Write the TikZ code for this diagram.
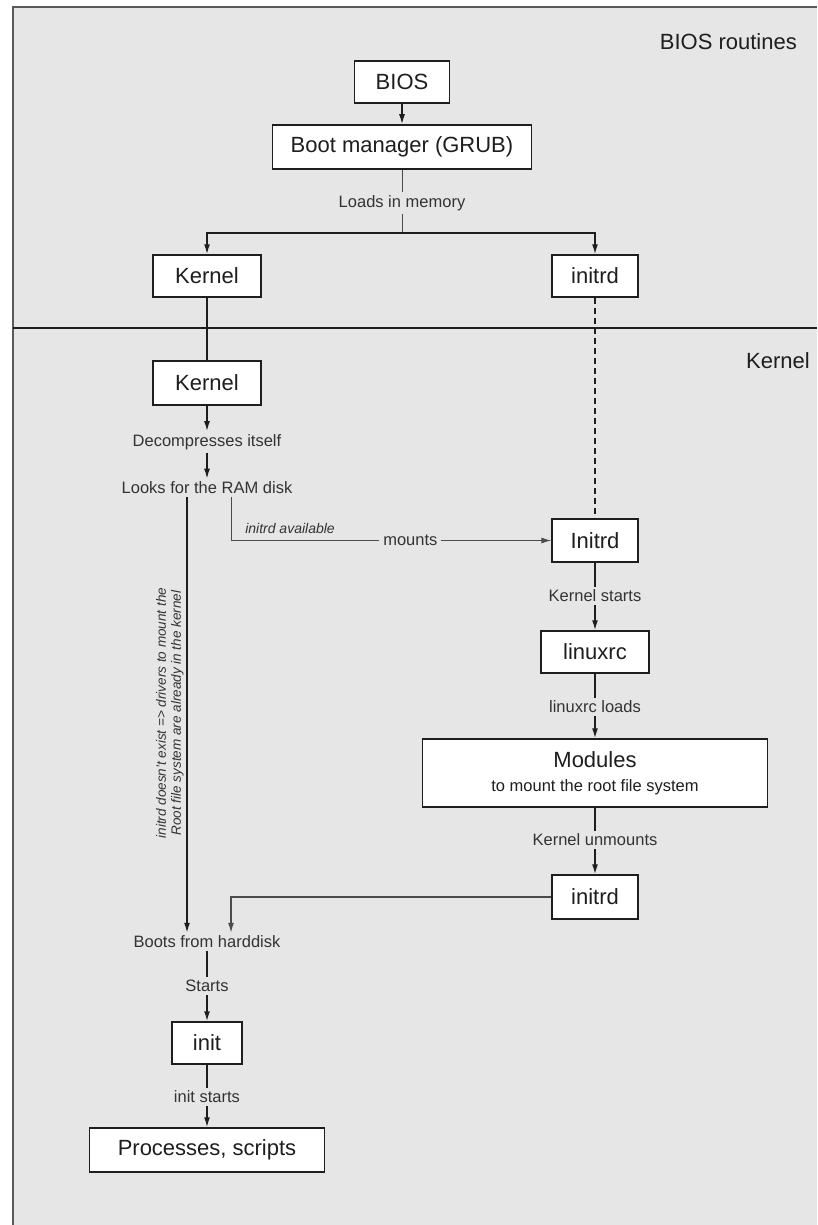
\documentclass[tikz,border=0pt]{standalone}
\usepackage{fontspec}
\setmainfont{Liberation Sans}
\usetikzlibrary{arrows.meta}
\definecolor{panel}{HTML}{E6E6E6}
\definecolor{ink}{HTML}{1E1E1E}
\definecolor{labelink}{HTML}{333333}
\definecolor{frameink}{HTML}{5A5A5A}
\begin{document}
\begin{tikzpicture}[x=1pt,y=-1pt,
  stage/.style={draw=ink, fill=white, line width=1.5pt, inner sep=0pt,
    font=\fontsize{22}{26}\selectfont, text=ink, align=center},
  caption/.style={font=\fontsize{16.5}{19}\selectfont, text=labelink, inner sep=3pt},
  region/.style={font=\fontsize{22}{26}\selectfont, text=ink, inner sep=0pt},
  flow/.style={draw=ink, line width=1.5pt},
  fine/.style={draw=ink!80, line width=1pt},
  tip/.style={-{Latex[length=10pt,width=6pt]}},
]
% page and panel
\useasboundingbox (0,0) rectangle (817,1225);
\fill[panel] (13,7) rectangle (817,1225);
\draw[line width=2pt, frameink] (13,1225) -- (13,7) -- (817,7);
\draw[line width=1.6pt, ink] (13,328) -- (817,328);

% region titles
\node[region, anchor=east] (biosregion) at (797,42) {BIOS routines};
\node[region, anchor=east] (kernelregion) at (810,361) {Kernel};

% boxes: left column at x=207, right column at x=595
\node[stage, minimum width=95pt, minimum height=42pt] (bios) at (402,82) {BIOS};
\node[stage, minimum width=259pt, minimum height=44pt] (grub) at (402,147) {Boot manager (GRUB)};
\node[stage, minimum width=108pt, minimum height=42pt] (kernelA) at (207,276) {Kernel};
\node[stage, minimum width=86pt, minimum height=42pt] (initrdA) at (595,276) {initrd};
\node[stage, minimum width=108pt, minimum height=44pt] (kernelB) at (207,383) {Kernel};
\node[stage, minimum width=86pt, minimum height=43pt] (initrdB) at (595,540.5) {Initrd};
\node[stage, minimum width=108pt, minimum height=42pt] (linuxrc) at (595,652) {linuxrc};
\node[stage, minimum width=345pt, minimum height=68pt] (modules) at (595,773)
  {Modules\\[-2pt]{\fontsize{16.5}{19}\selectfont to mount the root file system}};
\node[stage, minimum width=86pt, minimum height=44pt] (initrdC) at (595,897) {initrd};
\node[stage, minimum width=70pt, minimum height=42pt] (init) at (207,1043) {init};
\node[stage, minimum width=235pt, minimum height=44pt] (procs) at (207,1150) {Processes, scripts};

% step captions
\node[caption] (loads) at (402,203) {Loads in memory};
\node[caption] (decomp) at (207,442) {Decompresses itself};
\node[caption] (looks) at (207,488) {Looks for the RAM disk};
\node[caption, font=\itshape\fontsize{14}{16}\selectfont] (avail) at (290,528) {initrd available};
\node[caption] (kstarts) at (595,596) {Kernel starts};
\node[caption] (lloads) at (595,707) {linuxrc loads};
\node[caption] (kunmounts) at (595,840) {Kernel unmounts};
\node[caption] (boots) at (207,942) {Boots from harddisk};
\node[caption] (starts) at (207,986) {Starts};
\node[caption] (istarts) at (207,1097) {init starts};
\node[caption, rotate=90, align=center, inner sep=0pt,
  font=\itshape\fontsize{13.5}{15}\selectfont] (noinitrd) at (170,713)
  {initrd doesn't exist => drivers to mount the\\Root file system are already in the kernel};

% branch point under the boot manager
\coordinate (branch) at (402,233);

% connectors, BIOS section
\draw[flow, tip] (bios) -- (grub);
\draw[fine] (grub) -- (loads);
\draw[fine] (loads) -- (branch);
\draw[flow, tip] (branch) -| (kernelA.north);
\draw[flow, tip] (branch) -| (initrdA.north);

% connectors, kernel section
\draw[flow] (kernelA) -- (kernelB);
\draw[flow, dashed, dash pattern=on 6pt off 4pt] (initrdA) -- (initrdB);
\draw[flow, tip] (kernelB) -- (decomp);
\draw[flow, tip] (decomp) -- (looks);
\draw[flow, tip] ([xshift=-20pt]looks.south) -- ([xshift=-20pt]boots.north);
\draw[fine, tip] ([xshift=24pt]looks.south) |- (initrdB.west)
  node[caption, fill=panel, pos=0.78, inner sep=4pt] (mounts) {mounts};
\draw[flow] (initrdB) -- (kstarts);
\draw[flow, tip] (kstarts) -- (linuxrc);
\draw[flow] (linuxrc) -- (lloads);
\draw[flow, tip] (lloads) -- (modules);
\draw[flow] (modules) -- (kunmounts);
\draw[flow, tip] (kunmounts) -- (initrdC);
\draw[fine, line width=1.2pt, tip] (initrdC.west) -| ([xshift=24pt]boots.north);
\draw[flow] (boots) -- (starts);
\draw[flow, tip] (starts) -- (init);
\draw[flow] (init) -- (istarts);
\draw[flow, tip] (istarts) -- (procs);
\end{tikzpicture}
\end{document}
